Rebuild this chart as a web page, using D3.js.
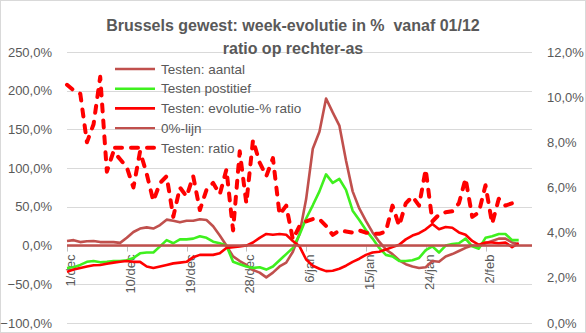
<!DOCTYPE html>
<html><head><meta charset="utf-8">
<script src="https://cdn.jsdelivr.net/npm/d3@7"></script>
<style>body{margin:0;background:#fff} svg{display:block} text{font-family:"Liberation Sans",Arial,sans-serif}</style>
</head><body>
<svg id="c" width="586" height="333"></svg>
<script>
// ---- data ----
const dates = ["1/dec","2/dec","3/dec","4/dec","5/dec","6/dec","7/dec","8/dec","9/dec","10/dec",
"11/dec","12/dec","13/dec","14/dec","15/dec","16/dec","17/dec","18/dec","19/dec","20/dec",
"21/dec","22/dec","23/dec","24/dec","25/dec","26/dec","27/dec","28/dec","29/dec","30/dec","31/dec",
"1/jan","2/jan","3/jan","4/jan","5/jan","6/jan","7/jan","8/jan","9/jan","10/jan",
"11/jan","12/jan","13/jan","14/jan","15/jan","16/jan","17/jan","18/jan","19/jan","20/jan",
"21/jan","22/jan","23/jan","24/jan","25/jan","26/jan","27/jan","28/jan","29/jan","30/jan","31/jan",
"1/feb","2/feb","3/feb","4/feb","5/feb","6/feb","7/feb","8/feb","9/feb"];
const tickLabels = ["1/dec","10/dec","19/dec","28/dec","6/jan","15/jan","24/jan","2/feb"];
const leftTicks = [250,200,150,100,50,0,-50,-100];
const rightTicks = [12,10,8,6,4,2,0];

const testenAantal = [6,7,4.5,5.5,6,4.5,4.5,4.5,3.5,10,17.5,22,23.5,22,26.5,33.5,32,30,32,32,34,33,25,13,0,
-14,-20,-25,-31.5,-35,-41,-35,-27,-22,-8,15,60,125,147,190,172,155,110,70,48,32,17,5,-5,-11,
-19,-24,-27,-29,-28,-20,-21,-14,-11,-7,-3,0,-1,3,6,9,9,4,2];
const testenPositief = [-29,-28,-25,-21,-20,-21.5,-21,-20,-20,-19,-16,-10,-9,-9,-1,7,3,8,8,9,12,10,5,3,0,
-21,-24,-27,-29,-28,-31,-27,-19,-11,-3,14,35,52,70,92,81,86,72,45,33,20,9,-3,-12,-14,
-20,-20,-19,-16,-6,-1,-9,0,2,3,9,-1,-4,10,12,15,15,7,7];
const evolutieRatio = [-34,-31,-29,-27,-25.5,-25,-23.5,-22,-21,-20,-21,-21,-27,-29,-27,-25,-23,-22,-21,-15,
-12,-12,-12,-10,-3,-2,-1,0,4,10,15,14,15,14,6,-1,-18,-26,-30,-33,-32.5,-30,-26,-21,-17,
-12,-9,-8,-5,-2,1,8,13,16,21,28,21,24,23,17,14,6,1,4,4,3,4,-2,3];
const nulLijn = dates.map(() => 0);
const testenRatio = [10.55,10.3,10.15,8.0,8.8,10.9,6.7,7.6,7.25,6.9,6.0,7.6,6.6,5.4,6.2,6.5,4.7,6.0,5.6,6.5,
5.0,5.9,6.2,5.7,6.8,4.1,7.6,5.3,8.1,7.1,6.5,7.3,4.8,5.2,3.7,4.3,4.5,4.6,4.6,4.3,
3.9,4.1,4.05,4.0,4.1,4.0,3.95,3.95,4.05,5.2,4.3,5.3,5.6,5.2,6.8,4.5,4.8,4.9,4.95,5.3,
6.4,4.7,4.9,6.1,4.4,5.5,5.2,5.3,5.55];

const seriesNames = ["Testen: aantal","Testen postitief","Testen: evolutie-% ratio","0%-lijn","Testen: ratio"];

// ---- layout ----
const W = 586, H = 333;
const L = 67, R = 532, T = 52, B = 323;
const textColor = "#595959";
const svg = d3.select("#c");
svg.append("rect").attr("x",0.5).attr("y",0.5).attr("width",W-1).attr("height",H-1)
  .attr("fill","#fff").attr("stroke","#D9D9D9");

const x = d3.scalePoint().domain(dates).range([L, R]);
const yL = d3.scaleLinear().domain([-100, 250]).range([B, T]);
const yR = d3.scaleLinear().domain([0, 12]).range([B, T]);
const loc = d3.formatLocale({decimal: ",", thousands: ".", grouping: [3], currency: ["", "€"]});
const f1 = loc.format(".1f");

// gridlines
svg.append("g").selectAll("line").data(leftTicks).join("line")
  .attr("x1", L).attr("x2", R)
  .attr("y1", d => Math.round(yL(d)) + 0.5).attr("y2", d => Math.round(yL(d)) + 0.5)
  .attr("stroke", "#D9D9D9").attr("stroke-width", 1);

// left axis labels
svg.append("g").selectAll("text").data(leftTicks).join("text")
  .attr("x", 52).attr("y", d => yL(d)).attr("dy", "0.35em")
  .attr("text-anchor", "end").attr("font-size", 13).attr("fill", textColor)
  .text(d => f1(d) + "%");

// right axis labels
svg.append("g").selectAll("text").data(rightTicks).join("text")
  .attr("x", 547).attr("y", d => yR(d)).attr("dy", "0.35em")
  .attr("text-anchor", "start").attr("font-size", 13).attr("fill", textColor)
  .text(d => f1(d) + "%");

// x axis ticks + labels
const y0 = yL(0);
svg.append("g").selectAll("line").data(tickLabels).join("line")
  .attr("x1", d => Math.round(x(d)) + 0.5).attr("x2", d => Math.round(x(d)) + 0.5)
  .attr("y1", y0).attr("y2", y0 + 6)
  .attr("stroke", "#BFBFBF");
svg.append("g").selectAll("text").data(tickLabels).join("text")
  .attr("transform", d => `translate(${x(d)},${y0 + 9}) rotate(-90)`)
  .attr("dy", 8).attr("text-anchor", "end")
  .attr("font-size", 13).attr("fill", textColor)
  .text(d => d);

// series
const lineL = d3.line().x((d, i) => x(dates[i])).y(d => yL(d));
const lineR = d3.line().x((d, i) => x(dates[i])).y(d => yR(d));
const styles = [
  {color: "#C0504D", w: 2.6, dash: null},
  {color: "#3FF01E", w: 2.6, dash: null},
  {color: "#FF0000", w: 2.6, dash: null},
  {color: "#C0504D", w: 2.4, dash: null},
  {color: "#FF0000", w: 4, dash: "7,9"}
];
const leftSeries = [testenAantal, testenPositief, evolutieRatio, nulLijn];
leftSeries.forEach((s, i) => {
  svg.append("path").attr("d", lineL(s)).attr("fill", "none")
    .attr("stroke", styles[i].color).attr("stroke-width", styles[i].w)
    .attr("stroke-linejoin", "round");
});
svg.append("path").attr("d", lineR(testenRatio)).attr("fill", "none")
  .attr("stroke", styles[4].color).attr("stroke-width", styles[4].w)
  .attr("stroke-dasharray", styles[4].dash).attr("stroke-linecap", "round")
  .attr("stroke-linejoin", "round");

// legend
const lg = svg.append("g");
seriesNames.forEach((n, i) => {
  const yy = 69 + i * 19.7;
  lg.append("line").attr("x1", 115).attr("x2", 155).attr("y1", yy).attr("y2", yy)
    .attr("stroke", styles[i].color).attr("stroke-width", styles[i].w)
    .attr("stroke-dasharray", styles[i].dash).attr("stroke-linecap", styles[i].dash ? "round" : "butt");
  lg.append("text").attr("x", 161).attr("y", yy).attr("dy", "0.35em")
    .attr("font-size", 13.5).attr("fill", textColor).text(n);
});

// title
svg.append("text").attr("x", 293).attr("y", 31).attr("text-anchor", "middle")
  .attr("font-size", 16).attr("font-weight", "bold").attr("fill", textColor)
  .style("white-space", "pre")
  .text("Brussels gewest: week-evolutie in %  vanaf 01/12");
svg.append("text").attr("x", 293).attr("y", 54).attr("text-anchor", "middle")
  .attr("font-size", 16).attr("font-weight", "bold").attr("fill", textColor)
  .text("ratio op rechter-as");
</script>
</body></html>
